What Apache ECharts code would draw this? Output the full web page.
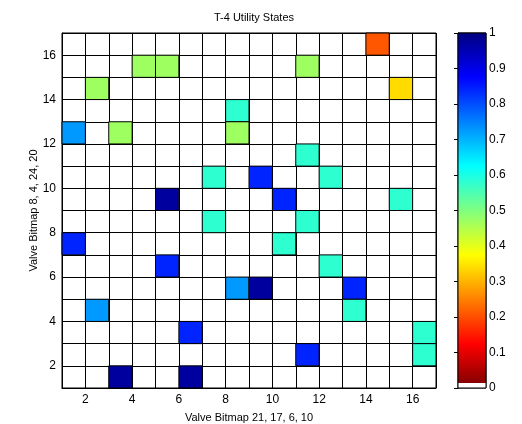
<!DOCTYPE html>
<html>
<head>
<meta charset="utf-8">
<script src="https://cdn.jsdelivr.net/npm/echarts@6/dist/echarts.min.js"></script>
<style>
html,body{margin:0;padding:0;background:#fff;}
#chart{width:522px;height:424px;}
</style>
</head>
<body>
<div id="chart"></div>
<script>
// Data: lower-left corner (column, row) of each coloured cell and its value
var cellX = [14, 4, 5, 11, 2, 15, 8, 1, 3, 8, 11, 7, 9, 12, 5, 10, 15, 7, 11, 1, 10, 5, 12, 8, 9, 13, 2, 13, 6, 16, 11, 16, 3, 6];
var cellY = [16, 15, 15, 15, 14, 14, 13, 12, 12, 12, 11, 10, 10, 10, 9, 9, 9, 8, 8, 7, 7, 6, 6, 5, 5, 5, 4, 4, 3, 3, 2, 2, 1, 1];
var cellVal = [0.21, 0.47, 0.47, 0.47, 0.47, 0.34, 0.58, 0.725, 0.47, 0.47, 0.58, 0.58, 0.84, 0.58, 0.97, 0.84, 0.58, 0.58, 0.58, 0.84, 0.58, 0.84, 0.58, 0.725, 0.97, 0.84, 0.725, 0.58, 0.84, 0.58, 0.84, 0.58, 0.97, 0.97];
var axisRange = [1, 17];
var tickValues = [2, 4, 6, 8, 10, 12, 14, 16];
var colorbarRange = [0, 1];

var titleText = 'T-4 Utility States';
var xName = 'Valve Bitmap 21, 17, 6, 10';
var yName = 'Valve Bitmap 8, 4, 24, 20';

// reversed jet colormap, evenly spaced stops from value 0 to 1
var jetRev = ['#800000', '#FF0000', '#FF8000', '#FFFF00', '#80FF80', '#00FFFF', '#0080FF', '#0000FF', '#000080'];

var cells = cellX.map(function (x, i) { return [x, cellY[i], cellVal[i]]; });

var FONT = 'Liberation Sans, Arial, sans-serif';
var chart = echarts.init(document.getElementById('chart'), null, {renderer: 'canvas'});

var gradStops = [];
var n = jetRev.length;
for (var i = 0; i < n; i++) {
  var v = i / (n - 1);
  if (v === 0) continue;
  gradStops.push({offset: 1 - v, color: jetRev[i]});
}
gradStops.sort(function (a, b) { return a.offset - b.offset; });
gradStops.push({offset: 1 - 1 / 64, color: '#880000'});
gradStops.push({offset: 1 - 1 / 64, color: '#FFFFFF'});
gradStops.push({offset: 1, color: '#FFFFFF'});

var option = {
  backgroundColor: '#fff',
  animation: false,
  title: {
    text: titleText, left: 249, top: 7, textAlign: 'center',
    textStyle: {fontFamily: FONT, fontSize: 11, fontWeight: 'normal', color: '#000'}
  },
  grid: [
    {left: 62, top: 33, width: 374, height: 355, show: true, borderColor: '#000', borderWidth: 1,
     containLabel: false, outerBoundsMode: 'none'},
    {left: 458, top: 33, width: 28, height: 355, show: true, borderColor: '#000', borderWidth: 1,
     containLabel: false, outerBoundsMode: 'none'}
  ],
  xAxis: [{
    gridIndex: 0, type: 'value', min: axisRange[0], max: axisRange[1], interval: 1,
    name: xName, nameLocation: 'middle', nameGap: 24, nameMoveOverlap: false,
    nameTextStyle: {fontFamily: FONT, fontSize: 11, color: '#000'},
    axisLine: {show: true, lineStyle: {color: '#000'}},
    axisTick: {show: false},
    splitLine: {show: true, lineStyle: {color: '#000', width: 1}},
    axisLabel: {
      fontFamily: FONT, fontSize: 12, color: '#000', margin: 6,
      formatter: function (v) { return tickValues.indexOf(v) >= 0 ? String(v) : ''; }
    }
  }, {
    gridIndex: 1, type: 'value', min: 0, max: 1, show: false
  }],
  yAxis: [{
    gridIndex: 0, type: 'value', min: axisRange[0], max: axisRange[1], interval: 1,
    name: yName, nameLocation: 'middle', nameGap: 23, nameMoveOverlap: false,
    nameTextStyle: {fontFamily: FONT, fontSize: 11, color: '#000'},
    axisLine: {show: true, lineStyle: {color: '#000'}},
    axisTick: {show: false},
    splitLine: {show: true, lineStyle: {color: '#000', width: 1}},
    axisLabel: {
      fontFamily: FONT, fontSize: 12, color: '#000', margin: 6,
      formatter: function (v) { return tickValues.indexOf(v) >= 0 ? String(v) : ''; }
    }
  }, {
    gridIndex: 1, type: 'value', min: colorbarRange[0], max: colorbarRange[1], interval: 0.1,
    position: 'right',
    axisLine: {show: true, lineStyle: {color: '#000'}},
    axisTick: {show: true, inside: true, length: 4, lineStyle: {color: '#000'}},
    splitLine: {show: false},
    axisLabel: {
      fontFamily: FONT, fontSize: 12, color: '#000', margin: 3,
      formatter: function (v) { return String(Math.round(v * 10) / 10); }
    }
  }],
  visualMap: {
    show: false, type: 'continuous', seriesIndex: 0, dimension: 2,
    min: colorbarRange[0], max: colorbarRange[1], inRange: {color: jetRev}
  },
  series: [{
    type: 'custom', xAxisIndex: 0, yAxisIndex: 0,
    data: cells,
    renderItem: function (params, api) {
      var x = api.value(0), y = api.value(1);
      var p0 = api.coord([x, y + 1]);
      var p1 = api.coord([x + 1, y]);
      return {
        type: 'rect',
        shape: {x: p0[0], y: p0[1], width: p1[0] - p0[0], height: p1[1] - p0[1]},
        style: {fill: api.visual('color'), stroke: '#000', lineWidth: 1}
      };
    }
  }, {
    type: 'custom', xAxisIndex: 1, yAxisIndex: 1,
    data: [[colorbarRange[0], colorbarRange[1]]],
    renderItem: function (params, api) {
      var p0 = api.coord([0, api.value(1)]);
      var p1 = api.coord([1, api.value(0)]);
      return {
        type: 'rect',
        shape: {x: p0[0], y: p0[1], width: p1[0] - p0[0], height: p1[1] - p0[1]},
        style: {
          fill: new echarts.graphic.LinearGradient(0, 0, 0, 1, gradStops),
          stroke: '#000', lineWidth: 1
        }
      };
    }
  }]
};
chart.setOption(option);
</script>
</body>
</html>
